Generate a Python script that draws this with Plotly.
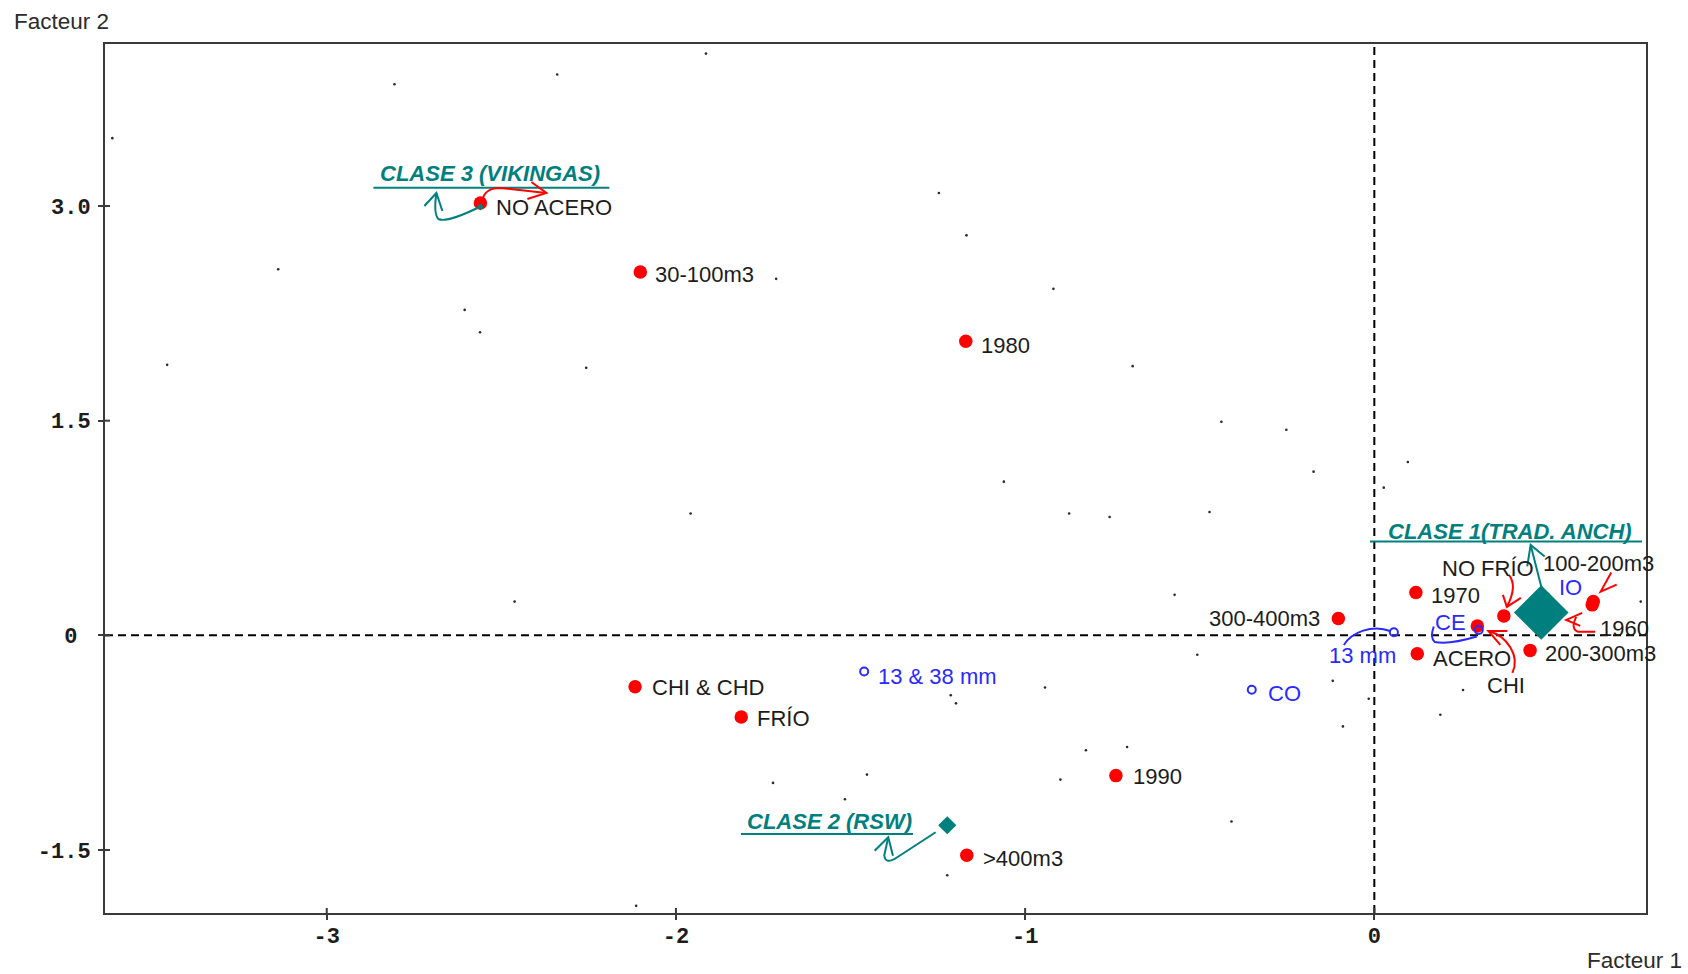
import plotly.graph_objects as go

# ---------------------------------------------------------------------------
# Factor map (axes 1 x 2) of a multiple correspondence analysis
# ---------------------------------------------------------------------------

X_RANGE = [-3.635, 0.778]
Y_RANGE = [-1.940, 4.132]
X_TICKS = [-3, -2, -1, 0]
X_TICK_TEXT = ["-3", "-2", "-1", "0"]
Y_TICKS = [-1.5, 0, 1.5, 3.0]
Y_TICK_TEXT = ["-1.5", "0\u00a0", "1.5", "3.0"]

# individuals (small dots)
ind_x = [-3.614, -2.806, -2.340, -3.139, -2.605, -2.561, -3.457, -2.257,
         -1.914, -1.247, -1.168, -1.713, -0.919, -0.692,
         -0.438, -0.252, -0.174, 0.096, -2.462,
         -1.061, -1.958, -0.874, -0.758, -0.943, -1.213, -1.198, -0.826,
         -0.708, -1.453, -1.722, -0.899, -1.516, -1.223, -2.114,
         0.027, -0.472, -0.572, 0.763, -0.507, -0.119, -0.016, 0.254,
         -0.090, 0.189, -0.409]
ind_y = [3.474, 3.851, 3.919, 2.558, 2.274, 2.118, 1.890, 1.869,
         4.065, 3.091, 2.795, 2.491, 2.421, 1.881,
         1.493, 1.437, 1.144, 1.211, 0.236,
         1.074, 0.851, 0.851, 0.827, -0.364, -0.419, -0.475, -0.803,
         -0.780, -0.973, -1.031, -1.008, -1.145, -1.676, -1.890,
         1.032, 0.862, 0.283, 0.236, -0.136, -0.318, -0.443, -0.382,
         -0.636, -0.555, -1.301]

# active modalities (red)
mod_labels = ["NO ACERO", "30-100m3", "1980", "CHI & CHD", "FRÍO", "1990",
              ">400m3", "300-400m3", "1970", "ACERO", "CHI", "NO FRÍO",
              "200-300m3", "100-200m3", "1960"]
mod_x = [-2.560, -2.102, -1.170, -2.117, -1.813, -0.740,
         -1.167, -0.103, 0.119, 0.123, 0.295, 0.371,
         0.446, 0.627, 0.624]
mod_y = [3.021, 2.539, 2.055, -0.359, -0.571, -0.980,
         -1.536, 0.118, 0.299, -0.129, 0.066, 0.136,
         -0.105, 0.236, 0.213]

# supplementary modalities (blue)
sup_labels = ["13 & 38 mm", "CO", "13 mm", "CE", "IO"]
sup_x = [-1.461, -0.351, 0.056, 0.299, 0.490]
sup_y = [-0.252, -0.380, 0.022, 0.038, 0.270]

# class centres
class_labels = ["CLASE 1(TRAD. ANCH)", "CLASE 2 (RSW)", "CLASE 3 (VIKINGAS)"]
class_x = [0.478, -1.223, -2.560]
class_y = [0.160, -1.327, 2.993]

# ---------------------------------------------------------------------------
# styling
# ---------------------------------------------------------------------------
RED = "#ff0000"
BLUE = "#2a2aff"
TEAL = "#007f7f"
INK = "#1c1c1c"
FRAME = "#3a3a3a"
LABEL_FONT = "Liberation Sans, Arial, sans-serif"
TICK_FONT = "Liberation Mono, Courier New, monospace"
LABEL_SIZE = 22
CLASS_SIZES = [42, 14, 5.5]
TEXT_DY = 0  # vertical nudge applied to every label (px, up positive)

# label placement: label -> (xanchor, xshift px, shift down px)
mod_place = {
    "NO ACERO": ("left", 14.0, 4.0), "30-100m3": ("left", 12.8, 2.4),
    "1980": ("left", 13.5, 4.0), "CHI & CHD": ("left", 15.2, 0.3),
    "FRÍO": ("left", 14.0, 1.3), "1990": ("left", 15.5, 1.3),
    ">400m3": ("left", 14.5, 3.4), "300-400m3": ("right", -16.2, 0.0),
    "1970": ("left", 13.5, 2.7), "ACERO": ("left", 14.2, 4.3),
    "CHI": ("center", 28.2, 59.8), "NO FRÍO": ("center", -16.0, -47.7),
    "200-300m3": ("left", 12.5, 3.4), "100-200m3": ("left", -51.8, -38.3),
    "1960": ("left", 6.2, 23.3),
}
sup_place = {
    "13 & 38 mm": ("left", 12.2, 5.0), "CO": ("left", 14.0, 3.3),
    "13 mm": ("left", -66.5, 23.0), "CE": ("left", -46.0, -7.2),
    "IO": ("left", 11.2, -9.1),
}
# class title: (xshift of centre, shift down, underline x from, x to, underline shift down)
class_place = {
    "CLASE 1(TRAD. ANCH)": (-31.3, -81.0, -171.3, 100.7, -71.0),
    "CLASE 2 (RSW)": (-117.5, -4.0, -206.3, -34.3, 8.7),
    "CLASE 3 (VIKINGAS)": (10.0, -34.0, -107.0, 129.0, -19.3),
}

# hand-drawn pointer strokes, in px around the mark they point at
# (series, label, colour, [stroke, ...]) ; each stroke is a list of commands
pointers = [
    ("class", "CLASE 3 (VIKINGAS)", TEAL, [
        [("M", -3, 1), ("Q", -34, 16, -42, 12), ("Q", -47, 7, -44, -14)],
        [("M", -56, -1), ("L", -44, -14), ("L", -38, 4)]]),
    ("mod", "NO ACERO", RED, [
        [("M", 2, -3), ("C", 4, -12, 10, -15, 20, -15), ("L", 66, -10)],
        [("M", 51, -21), ("L", 66, -10), ("L", 47, -4)]]),
    ("class", "CLASE 2 (RSW)", TEAL, [
        [("M", -11.6, 7), ("L", -50, 32), ("Q", -62, 40, -63, 30), ("L", -59, 12)],
        [("M", -72.6, 25.4), ("L", -59, 12), ("L", -54.3, 30.4)]]),
    ("class", "CLASE 1(TRAD. ANCH)", TEAL, [
        [("M", 1, -22), ("L", -10.6, -67.5)],
        [("M", -14, -46), ("L", -10.6, -67.5), ("L", 3.4, -56)]]),
    ("mod", "NO FRÍO", RED, [
        [("M", 5, -41), ("Q", 14, -30, 3, -9)],
        [("M", -1, -21), ("L", 3, -9), ("L", 17, -18)]]),
    ("mod", "CHI", RED, [
        [("M", 35, 47), ("C", 43, 30, 30, 10, 11, 5)],
        [("M", 30, 5), ("L", 11, 5), ("L", 23, 19)]]),
    ("mod", "1960", RED, [
        [("M", 3, 27), ("L", -14, 27), ("Q", -22, 24, -16, 12)],
        [("M", -10, 8), ("L", -26, 15), ("L", -12, 21)]]),
    ("mod", "100-200m3", RED, [
        [("M", 18, -29), ("L", 7.4, -10), ("L", 23.4, -17)]]),
    ("sup", "13 mm", BLUE, [
        [("M", -50, 12.7), ("C", -42, 0, -22, -8, -3, -1)]]),
    ("sup", "CE", BLUE, [
        [("M", -2, 6.6), ("Q", -30, 15, -44, 12), ("Q", -49, 8, -45, -3.4)]]),
]

series = {
    "mod": (mod_labels, mod_x, mod_y),
    "sup": (sup_labels, sup_x, sup_y),
    "class": (class_labels, class_x, class_y),
}


def anchor_of(kind, label):
    labels, xs, ys = series[kind]
    i = labels.index(label)
    return xs[i], ys[i]


def stroke_path(cmds):
    # screen offsets (y down) -> plotly pixel offsets (y up)
    parts = []
    for c in cmds:
        op, vals = c[0], c[1:]
        pts = []
        for k in range(0, len(vals), 2):
            pts.append(f"{vals[k]},{-vals[k + 1]}")
        parts.append(op + " " + " ".join(pts))
    return " ".join(parts)


fig = go.Figure()

fig.add_trace(go.Scatter(
    x=ind_x, y=ind_y, mode="markers", hoverinfo="skip",
    marker=dict(size=2.6, color="#2a2a2a", opacity=1, line=dict(width=0))))

fig.add_trace(go.Scatter(
    x=mod_x, y=mod_y, mode="markers", hoverinfo="skip",
    marker=dict(size=13.5, color=RED, opacity=1, line=dict(width=0))))

fig.add_trace(go.Scatter(
    x=sup_x, y=sup_y, mode="markers", hoverinfo="skip",
    marker=dict(symbol="circle-open", size=8, color=BLUE, opacity=1,
                line=dict(width=2, color=BLUE))))

fig.add_trace(go.Scatter(
    x=class_x, y=class_y, mode="markers", hoverinfo="skip",
    marker=dict(symbol="diamond", size=CLASS_SIZES, color=TEAL, opacity=1,
                line=dict(width=0))))

shapes = []
# dashed origin lines
shapes.append(dict(type="line", xref="x", yref="paper", x0=0, x1=0, y0=0, y1=1,
                   line=dict(color="#000000", width=2, dash="8px,5px"),
                   layer="below"))
shapes.append(dict(type="line", xref="paper", yref="y", x0=0, x1=1, y0=0, y1=0,
                   line=dict(color="#000000", width=2, dash="8px,5px"),
                   layer="below"))
# inner half of the tick marks (outer half drawn by the axes)
for v in X_TICKS:
    shapes.append(dict(type="line", xref="x", yref="paper", ysizemode="pixel",
                       yanchor=0, x0=v, x1=v, y0=0, y1=5,
                       line=dict(color=FRAME, width=2)))
for v in Y_TICKS:
    shapes.append(dict(type="line", yref="y", xref="paper", xsizemode="pixel",
                       xanchor=0, y0=v, y1=v, x0=0, x1=5,
                       line=dict(color=FRAME, width=2)))

annotations = []


def add_labels(kind, place, color):
    labels, xs, ys = series[kind]
    for lab, x, y in zip(labels, xs, ys):
        xa, dx, down = place[lab]
        annotations.append(dict(
            x=x, y=y, xref="x", yref="y", text=lab, showarrow=False,
            xanchor=xa, yanchor="middle", xshift=dx, yshift=-down + TEXT_DY,
            font=dict(family=LABEL_FONT, size=LABEL_SIZE, color=color)))


add_labels("mod", mod_place, INK)
add_labels("sup", sup_place, BLUE)

for lab, x, y in zip(class_labels, class_x, class_y):
    dx, down, u0, u1, udown = class_place[lab]
    annotations.append(dict(
        x=x, y=y, xref="x", yref="y", text=lab, showarrow=False,
        xanchor="center", yanchor="middle", xshift=dx, yshift=-down + TEXT_DY,
        font=dict(family=LABEL_FONT, size=22, color=TEAL,
                  weight="bold", style="italic")))
    shapes.append(dict(type="line", xref="x", yref="y",
                       xsizemode="pixel", ysizemode="pixel",
                       xanchor=x, yanchor=y, x0=u0, x1=u1, y0=-udown, y1=-udown,
                       line=dict(color=TEAL, width=2)))

for kind, lab, col, strokes in pointers:
    ax, ay = anchor_of(kind, lab)
    for st in strokes:
        shapes.append(dict(type="path", xref="x", yref="y",
                           xsizemode="pixel", ysizemode="pixel",
                           xanchor=ax, yanchor=ay, path=stroke_path(st),
                           line=dict(color=col, width=2)))

# axis names
annotations.append(dict(x=0, y=1, xref="paper", yref="paper", text="Facteur 2",
                        showarrow=False, xanchor="left", yanchor="middle",
                        xshift=-93, yshift=22.7,
                        font=dict(family=LABEL_FONT, size=22.5, color="#2b2b2b")))
annotations.append(dict(x=1, y=0, xref="paper", yref="paper", text="Facteur 1",
                        showarrow=False, xanchor="right", yanchor="middle",
                        xshift=38, yshift=-47,
                        font=dict(family=LABEL_FONT, size=22.5, color="#2b2b2b")))

axis_common = dict(
    showgrid=False, zeroline=False, showline=True, linecolor=FRAME,
    linewidth=2, mirror=True, ticks="outside", ticklen=5, tickwidth=2,
    tickcolor=FRAME,
    tickfont=dict(family=TICK_FONT, size=22, color="#1c1c1c", weight="bold"),
)

fig.update_layout(
    width=1688, height=974,
    margin=dict(l=105, r=42, t=44, b=61),
    paper_bgcolor="white", plot_bgcolor="white",
    showlegend=False,
    xaxis=dict(range=X_RANGE, tickvals=X_TICKS, ticktext=X_TICK_TEXT,
               ticklabelstandoff=-3, **axis_common),
    yaxis=dict(range=Y_RANGE, tickvals=Y_TICKS, ticktext=Y_TICK_TEXT,
               ticklabelstandoff=3, **axis_common),
    shapes=shapes,
    annotations=annotations,
)

fig.write_html("out.html")
